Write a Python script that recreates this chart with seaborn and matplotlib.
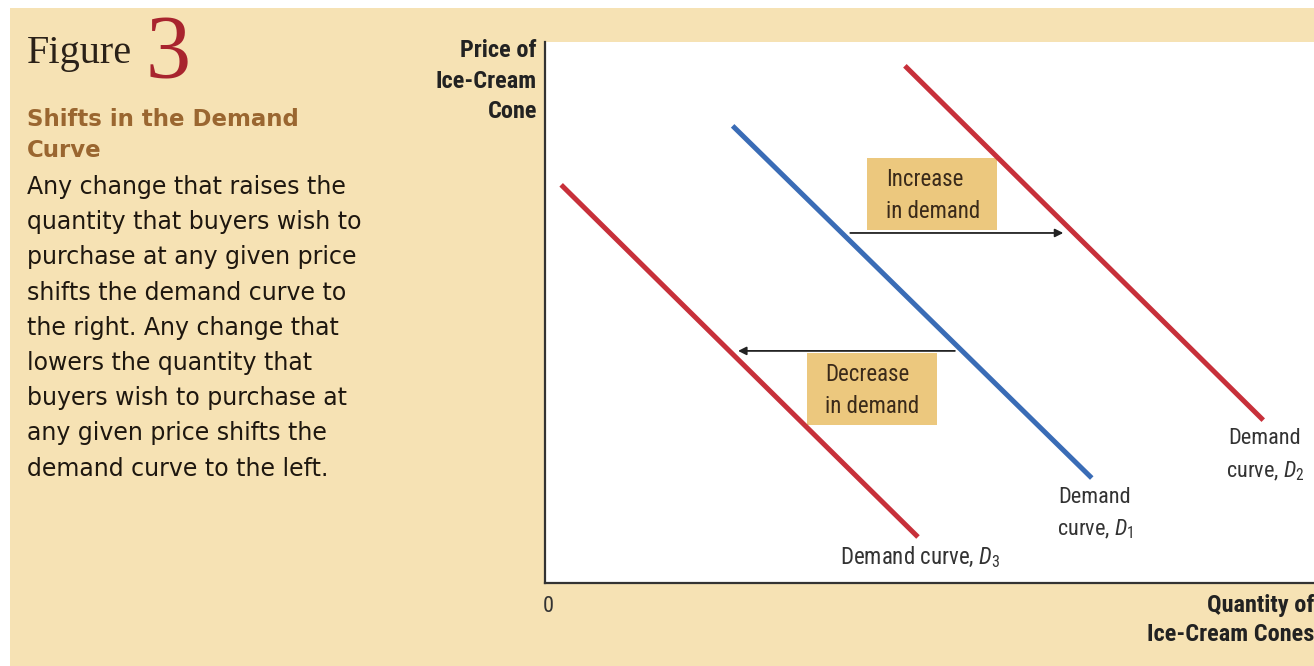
import seaborn as sns
import matplotlib.pyplot as plt
import pandas as pd
from matplotlib.patches import Rectangle

# demand curves: endpoints (quantity, price) on a 0-100 scale
d1_q = [24.4, 71.1]
d1_p = [84.5, 19.4]
d2_q = [46.8, 93.4]
d2_p = [95.6, 30.1]
d3_q = [2.1, 48.5]
d3_p = [73.6, 8.5]

# shift arrows (start q, end q, price level)
inc_arrow = [39.7, 67.4, 64.7]
dec_arrow = [53.3, 25.1, 42.9]

BEIGE = '#F6E2B4'
BOX = '#ECC87E'
RED = '#C7303A'
BLUE = '#3A6CB6'
NARROW = ['Roboto Condensed', 'DejaVu Sans Condensed', 'Roboto', 'DejaVu Sans']
BODY = ['DejaVu Sans']

sns.set_style('white')
plt.rcParams['mathtext.fontset'] = 'custom'
plt.rcParams['mathtext.it'] = 'Roboto Condensed:italic'
plt.rcParams['mathtext.rm'] = 'Roboto Condensed'

df = pd.concat([
    pd.DataFrame({'q': d3_q, 'p': d3_p, 'curve': 'D3'}),
    pd.DataFrame({'q': d1_q, 'p': d1_p, 'curve': 'D1'}),
    pd.DataFrame({'q': d2_q, 'p': d2_p, 'curve': 'D2'}),
])

fig = plt.figure(figsize=(13.14, 6.66), dpi=100)
fig.patch.set_facecolor('white')
fig.patches.append(Rectangle((10 / 1314, 0), 1, 658 / 666, transform=fig.transFigure,
                             facecolor=BEIGE, edgecolor='none', zorder=-10))

ax = fig.add_axes([545 / 1314, 83 / 666, 769 / 1314, 541 / 666])
ax.set_facecolor('white')
sns.lineplot(data=df, x='q', y='p', hue='curve', palette={'D1': BLUE, 'D2': RED, 'D3': RED},
             linewidth=3.6, legend=False, ax=ax, solid_capstyle='butt')
ax.set_xlim(0, 100)
ax.set_ylim(0, 100)
ax.set_xticks([])
ax.set_yticks([])
ax.set_xlabel('')
ax.set_ylabel('')
for s in ['top', 'right']:
    ax.spines[s].set_visible(False)
for s in ['left', 'bottom']:
    ax.spines[s].set_color('#333333')
    ax.spines[s].set_linewidth(1.6)

# arrows
for a in [inc_arrow, dec_arrow]:
    ax.annotate('', xy=(a[1], a[2]), xytext=(a[0], a[2]),
                arrowprops=dict(arrowstyle='-|>', color='#222222', lw=1.3, mutation_scale=12,
                                shrinkA=0, shrinkB=0))

# label boxes
ax.add_patch(Rectangle((41.9, 65.2), 16.9, 13.3, facecolor=BOX, edgecolor='none', zorder=1))
ax.add_patch(Rectangle((34.1, 29.2), 16.9, 13.3, facecolor=BOX, edgecolor='none', zorder=1))
ax.text(44.3, 71.7, 'Increase\nin demand', family=NARROW, fontsize=16.5, color='#3a2a1a',
        ha='left', va='center', linespacing=1.5)
ax.text(36.4, 35.6, 'Decrease\nin demand', family=NARROW, fontsize=16.5, color='#3a2a1a',
        ha='left', va='center', linespacing=1.5)

ax.text(93.6, 23.6, 'Demand\ncurve, $D_2$', family=NARROW, fontsize=16, color='#333333',
        ha='center', va='center', linespacing=1.58)
ax.text(71.5, 12.8, 'Demand\ncurve, $D_1$', family=NARROW, fontsize=16, color='#333333',
        ha='center', va='center', linespacing=1.55)
ax.text(48.8, 4.8, 'Demand curve, $D_3$', family=NARROW, fontsize=16.5, color='#333333',
        ha='center', va='center')

# axis titles
fig.text(537 / 1314, 1 - 81 / 666, 'Price of\nIce-Cream\nCone', family=NARROW, fontsize=17.5,
         fontweight='bold', color='#222222', ha='right', va='center', linespacing=1.42)
fig.text(1314 / 1314, 1 - 620 / 666, 'Quantity of\nIce-Cream Cones', family=NARROW, fontsize=17.5,
         fontweight='bold', color='#222222', ha='right', va='center', linespacing=1.36)
fig.text(548 / 1314, 1 - 607 / 666, '0', family=NARROW, fontsize=16, color='#333333',
         ha='center', va='center')

# left caption panel
fig.text(27 / 1314, 1 - 53 / 666, 'Figure', family=['Liberation Serif', 'DejaVu Serif'],
         fontsize=29, color='#2a2118', ha='left', va='center')
fig.text(145 / 1314, 1 - 56 / 666, '3', family=['Liberation Serif', 'DejaVu Serif'],
         fontsize=65, color='#A8242E', ha='left', va='center')
fig.text(27 / 1314, 1 - 135 / 666, 'Shifts in the Demand\nCurve', family=BODY,
         fontsize=16.5, fontweight='bold', color='#9A6630', ha='left', va='center', linespacing=1.45)
body = ('Any change that raises the\nquantity that buyers wish to\npurchase at any given price\n'
        'shifts the demand curve to\nthe right. Any change that\nlowers the quantity that\n'
        'buyers wish to purchase at\nany given price shifts the\ndemand curve to the left.')
fig.text(27 / 1314, 1 - 175 / 666, body, family=BODY, fontsize=17,
         color='#1e170f', ha='left', va='top', linespacing=1.59)

fig.savefig('out.png', dpi=100, facecolor=fig.get_facecolor())
